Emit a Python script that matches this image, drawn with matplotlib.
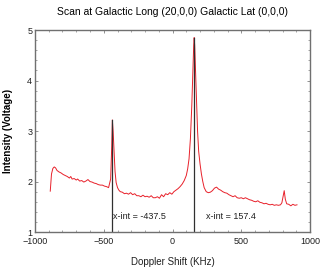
import matplotlib.pyplot as plt
from matplotlib.ticker import MultipleLocator

plt.rcParams['font.family'] = ['Liberation Sans', 'DejaVu Sans']

# doppler shift (KHz) and intensity (V)
shift = [-889, -880, -870, -860, -850, -840, -825, -810, -795, -780, -765, -750, -740,
         -730, -715, -700, -690, -675, -660, -645, -630, -615, -600, -585, -570, -555,
         -540, -525, -510, -495, -480, -465, -450, -442, -437.5, -432, -425, -418, -410,
         -400, -390, -380, -365, -350, -335, -320, -305, -290, -275, -260, -245, -230,
         -215, -200, -185, -170, -155, -140, -125, -110, -95, -80, -65, -50, -35, -20,
         -5, 10, 25, 40, 55, 70, 85, 100, 110, 120, 130, 140, 148, 154, 157.4, 161, 167,
         175, 182, 190, 200, 210, 220, 230, 245, 260, 275, 290, 305, 320, 335, 350, 365,
         380, 395, 410, 425, 440, 455, 470, 485, 500, 515, 530, 545, 560, 575, 590, 605,
         620, 635, 650, 665, 680, 695, 710, 725, 740, 755, 770, 785, 795, 805, 812, 820,
         830, 845, 860, 875, 890, 905]
intensity = [1.81, 2.15, 2.26, 2.29, 2.27, 2.22, 2.19, 2.17, 2.14, 2.12, 2.10, 2.07, 2.10,
             2.05, 2.06, 2.03, 2.05, 2.01, 2.02, 1.99, 2.01, 2.04, 2.00, 1.99, 1.97, 1.96,
             1.94, 1.93, 1.93, 1.91, 1.90, 1.88, 2.05, 2.70, 3.22, 3.00, 2.60, 2.20, 1.98,
             1.88, 1.83, 1.80, 1.79, 1.76, 1.77, 1.75, 1.78, 1.74, 1.76, 1.72, 1.72, 1.70,
             1.73, 1.70, 1.71, 1.69, 1.72, 1.68, 1.68, 1.70, 1.67, 1.74, 1.70, 1.76, 1.74, 1.78,
             1.75, 1.80, 1.83, 1.86, 1.90, 1.95, 2.02, 2.12, 2.25, 2.45, 2.85, 3.50, 4.20, 4.70,
             4.85, 4.70, 4.20, 3.50, 3.00, 2.60, 2.35, 2.15, 2.00, 1.88, 1.80, 1.78, 1.79, 1.82,
             1.87, 1.89, 1.85, 1.83, 1.80, 1.78, 1.77, 1.74, 1.72, 1.70, 1.72, 1.68, 1.67, 1.68,
             1.66, 1.68, 1.66, 1.64, 1.63, 1.61, 1.60, 1.62, 1.59, 1.58, 1.56, 1.57, 1.55, 1.54,
             1.55, 1.53, 1.54, 1.53, 1.54, 1.58, 1.72, 1.82, 1.65, 1.56, 1.55, 1.52, 1.55, 1.53,
             1.54]

peak_x = [-437.5, 157.4]
peak_y = [3.22, 4.85]
labels = ["x-int = -437.5", "x-int = 157.4"]
label_x = [-433, 245]

fig = plt.figure(figsize=(3.24, 2.68), dpi=100)
ax = fig.add_axes([0.108, 0.134, 0.849, 0.754])

ax.plot(shift, intensity, color='#e8202a', lw=0.7)
for px, py, lab, lx in zip(peak_x, peak_y, labels, label_x):
    ax.plot([px, px], [1, py], color='#303030', lw=0.9)
    ax.text(lx, 1.3, lab, fontsize=6.5, color='#202020', va='center')

ax.set_xlim(-1000, 1000)
ax.set_ylim(1, 5)
ax.xaxis.set_major_locator(MultipleLocator(500))
ax.xaxis.set_minor_locator(MultipleLocator(100))
ax.yaxis.set_major_locator(MultipleLocator(1))
ax.yaxis.set_minor_locator(MultipleLocator(0.2))
ax.tick_params(which='both', direction='in', top=True, right=True,
               colors='#808080', labelcolor='#202020', labelsize=6.5, pad=2)
ax.tick_params(axis='x', which='major', pad=3.5)
ax.tick_params(which='major', length=2.5, width=0.6)
ax.tick_params(which='minor', length=1.5, width=0.5)
for s in ax.spines.values():
    s.set_color('#707070')
    s.set_linewidth(1.0)

ax.set_xlabel("Doppler Shift (KHz)", fontsize=7, labelpad=8, color='#202020')
ax.set_ylabel("Intensity (Voltage)", fontsize=7, fontweight='bold', labelpad=10)
ax.set_title("Scan at Galactic Long (20,0,0) Galactic Lat (0,0,0)", fontsize=7.5, pad=11)

fig.savefig("out.png", dpi=100)
